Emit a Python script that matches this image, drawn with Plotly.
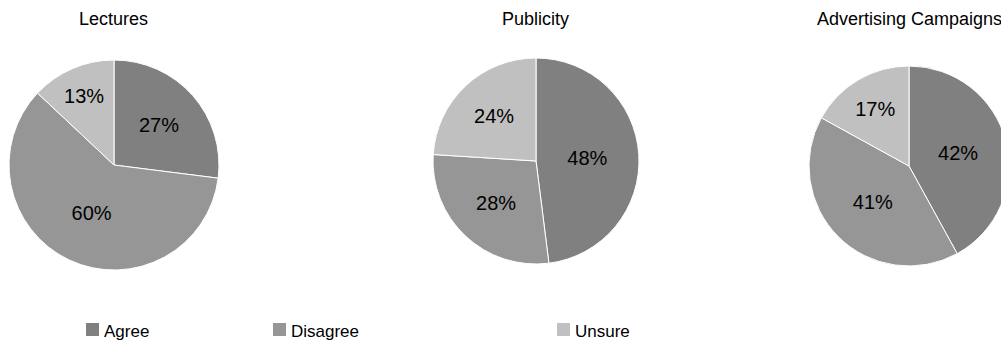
import plotly.graph_objects as go

# Survey responses (percent) for each outreach activity
categories = ["Agree", "Disagree", "Unsure"]
activities = ["Lectures", "Publicity", "Advertising Campaigns"]
lectures = [27, 60, 13]
publicity = [48, 28, 24]
advertising = [42, 41, 17]

colors = ["#808080", "#969696", "#c0c0c0"]

W, H = 1012, 350

# pie placement in pixels: (center x, center y from top, radius)
placements = [(114, 165, 105), (536, 161, 103), (909, 166, 100)]
title_x = [113, 535, 909]

fig = go.Figure()
for name, vals, (cx, cy, r) in zip(activities, [lectures, publicity, advertising], placements):
    yb = H - cy
    fig.add_trace(go.Pie(
        labels=categories,
        values=vals,
        name=name,
        sort=False,
        direction="clockwise",
        rotation=0,
        marker=dict(colors=colors, line=dict(color="white", width=1)),
        texttemplate="%{value}%",
        textposition="inside",
        insidetextorientation="horizontal",
        textfont=dict(family="Liberation Sans, Arial, sans-serif", size=20, color="#000000"),
        hoverinfo="label+value",
        showlegend=False,
        domain=dict(x=[(cx - r) / W, (cx + r) / W], y=[(yb - r) / H, (yb + r) / H]),
    ))

font = "Liberation Sans, Arial, sans-serif"
annotations = []
for name, tx in zip(activities, title_x):
    annotations.append(dict(
        text=name, x=tx / W, y=1 - 19 / H, xref="paper", yref="paper",
        xanchor="center", yanchor="middle", showarrow=False,
        font=dict(family=font, size=18, color="#000000"),
    ))

# legend entries: swatch left edge in pixels
legend_x = [86, 273, 557]
shapes = []
for cat, col, lx in zip(categories, colors, legend_x):
    shapes.append(dict(
        type="rect", xref="paper", yref="paper",
        x0=lx / W, x1=(lx + 13) / W, y0=1 - 336 / H, y1=1 - 323 / H,
        fillcolor=col, line=dict(width=0),
    ))
    annotations.append(dict(
        text=cat, x=(lx + 16) / W, y=1 - 331 / H, xref="paper", yref="paper",
        xanchor="left", yanchor="middle", showarrow=False,
        font=dict(family=font, size=17, color="#000000"),
    ))

fig.update_layout(
    width=W, height=H, autosize=False,
    margin=dict(l=0, r=0, t=0, b=0),
    paper_bgcolor="white", plot_bgcolor="white",
    annotations=annotations, shapes=shapes,
)

fig.write_html(
    "out.html",
    post_script="document.documentElement.style.overflow='hidden';document.body.style.overflow='hidden';document.body.style.margin='0';",
)
